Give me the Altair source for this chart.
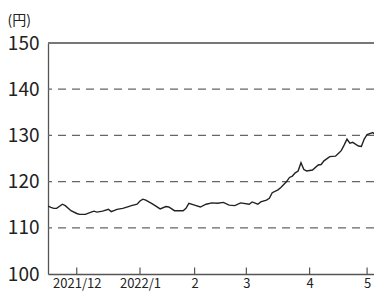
import altair as alt
import pandas as pd

# trading-day index (0 = 2021/12/1) and USD/JPY rate
day_idx = [-10, -9, -8, -7, -5, -4, -2, 0, 1, 3, 5, 6, 7, 9, 11, 12, 14, 16, 18, 19, 21,
           22, 23, 24, 26, 27, 29, 31, 32, 34, 37, 38, 39, 41, 43, 45, 47, 49, 51, 53, 55, 57,
           60, 61, 63, 64, 66, 67, 68, 70, 71, 73, 74, 75, 76, 77, 78, 79, 80, 82, 84, 85, 86,
           88, 90, 91, 92, 93, 94, 95, 96, 98, 99, 100, 101, 103, 104, 105, 106]
rate = [114.7, 114.4, 114.2, 114.2, 115.1, 114.8, 113.7, 113.1, 112.9, 112.9, 113.4, 113.6,
        113.4, 113.6, 114.0, 113.5, 114.0, 114.2, 114.6, 114.8, 115.1,
        115.8, 116.2, 116.0, 115.3, 114.9, 114.1, 114.6, 114.5, 113.7, 113.7, 114.2, 115.3,
        114.9, 114.5, 115.1, 115.4, 115.3, 115.5, 114.9, 114.8, 115.4,
        115.1, 115.6, 115.1, 115.6, 116.0, 116.4, 117.6, 118.2, 118.7, 120.0, 120.9, 121.2,
        121.9, 122.3, 124.1, 122.6, 122.3, 122.5, 123.6, 123.7, 124.5,
        125.4, 125.5, 126.1, 126.7, 127.9, 129.2, 128.3, 128.5, 127.7, 127.6, 129.2, 130.2,
        130.6, 130.1, 130.2, 129.7]

tick_pos = [0, 22, 41, 59, 81, 101]
tick_labels = ["2021/12", "2022/1", "2", "3", "4", "5"]
grid_vals = [110, 120, 130, 140]
y_ticks = [100, 110, 120, 130, 140, 150]

FONT = "Noto Sans CJK JP"
X_DOM = [-10, 103.4]
Y_DOM = [100, 150]

df = pd.DataFrame({"d": day_idx, "v": rate})
ticks_df = pd.DataFrame({"d": tick_pos, "lab": tick_labels})
grid_df = pd.DataFrame({"v": grid_vals})
top_df = pd.DataFrame({"v": [150]})

label_map = "{" + ",".join(f"'{p}':'{l}'" for p, l in zip(tick_pos, tick_labels)) + "}"

xs = alt.Scale(domain=X_DOM, nice=False, zero=False)
ys = alt.Scale(domain=Y_DOM, nice=False, zero=False)

grid = alt.Chart(grid_df).mark_rule(color="#666666", strokeWidth=1.3, strokeDash=[8, 6]).encode(
    y=alt.Y("v:Q", scale=ys)
)
top = alt.Chart(top_df).mark_rule(color="#777777", strokeWidth=1.8).encode(
    y=alt.Y("v:Q", scale=ys)
)
tick_marks = alt.Chart(ticks_df).mark_rule(color="#555555", strokeWidth=1.2).encode(
    x=alt.X("d:Q", scale=xs),
    y=alt.datum(100),
    y2=alt.datum(101.4),
)

line = alt.Chart(df).mark_line(color="#222222", strokeWidth=1.4, clip=True).encode(
    x=alt.X("d:Q", scale=xs,
            axis=alt.Axis(values=tick_pos, labelExpr=f"{label_map}[datum.value]",
                          ticks=False, grid=False, title=None, domainColor="#555555",
                          domainWidth=1.3, labelFont=FONT, labelFontSize=13,
                          labelColor="#222222", labelPadding=3, labelFlush=False)),
    y=alt.Y("v:Q", scale=ys,
            axis=alt.Axis(values=y_ticks, ticks=False, grid=False, domainColor="#555555",
                          domainWidth=1.3, labelFont=FONT, labelFontSize=19,
                          labelColor="#222222", labelPadding=9,
                          title="(円)", titleAngle=0, titleAlign="left",
                          titleBaseline="alphabetic", titleX=-41, titleY=-19,
                          titleFont=FONT, titleFontSize=14, titleFontWeight="normal",
                          titleColor="#222222")),
)

chart = alt.layer(grid, top, tick_marks, line).properties(
    width=326, height=231,
    autosize=alt.AutoSizeParams(type="none"),
    padding={"left": 40, "top": 35, "right": 0, "bottom": 18},
    background="white",
).configure_view(stroke=None)

chart.save("out.html", embed_options={"renderer": "svg", "actions": False})
